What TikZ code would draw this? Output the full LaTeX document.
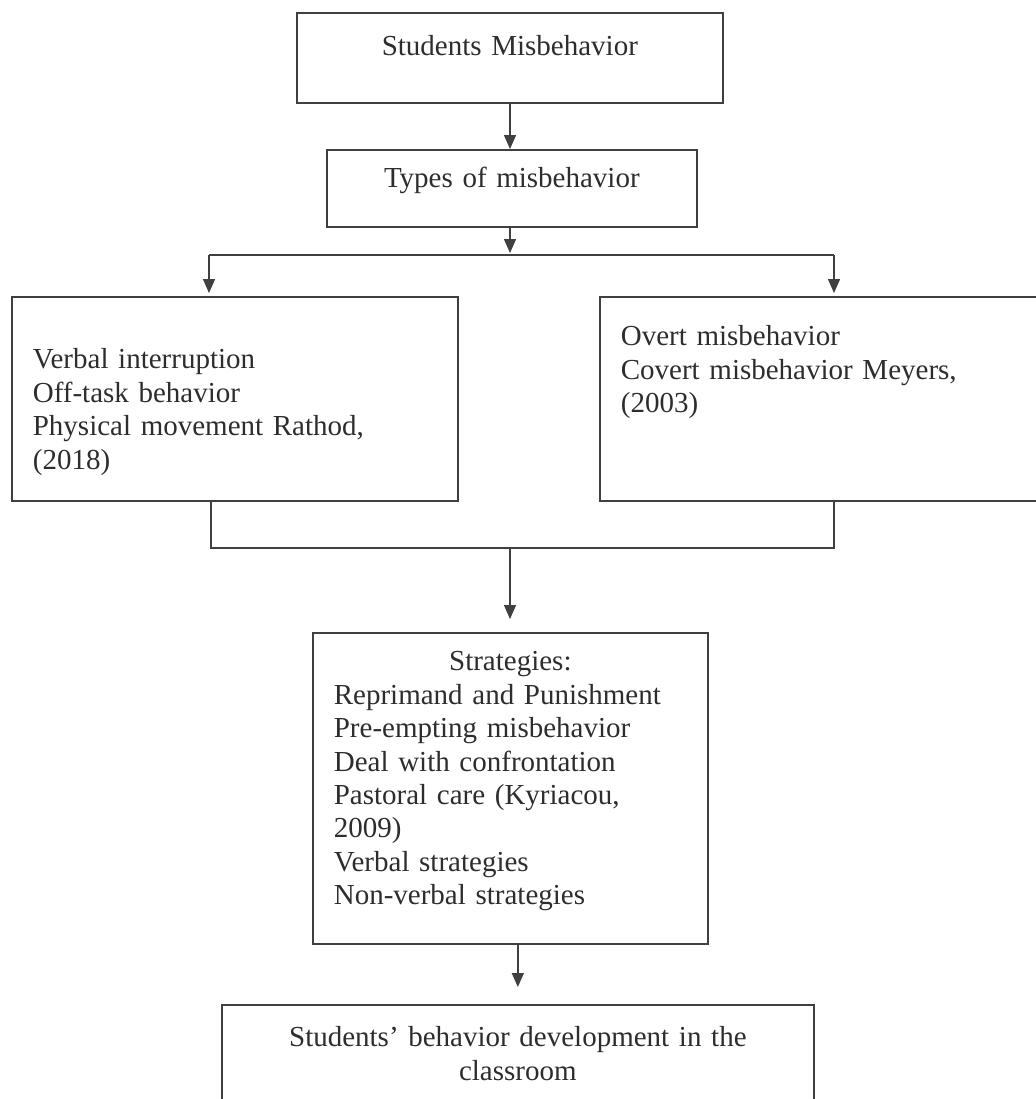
\documentclass[tikz,border=0pt]{standalone}
\usepackage{fontspec}
\setmainfont{Liberation Serif}
\usepackage{tikz}
\usetikzlibrary{arrows.meta,calc}
\usepackage{xcolor}
\definecolor{linegray}{RGB}{64,64,64}
\definecolor{textgray}{RGB}{45,45,45}

\begin{document}
\begin{tikzpicture}[x=0.5pt,y=-0.5pt,
  every node/.style={font=\fontsize{14.5}{16.7}\selectfont,text=textgray},
  box/.style={draw=linegray,line width=0.85pt,inner xsep=10.5pt,inner ysep=0pt,anchor=north west},
  arr/.style={-{Triangle[width=6pt,length=7pt]},draw=linegray,fill=linegray,line width=0.7pt},
  lnk/.style={draw=linegray,line width=0.7pt}]
\useasboundingbox (0,0) rectangle (1036,1099);
\clip (0,0) rectangle (1036,1099);
\node[box,align=center,text width=192pt,text height=21.5pt,text depth=23.5pt] (Sm) at (296,12)  {Students Misbehavior};
\node[box,align=center,text width=164pt,text height=19pt,text depth=19.5pt]   (Ty) at (326,149) {Types of misbehavior};
\node[box,align=left,text width=202pt,text height=36pt,text depth=66pt]       (Tl) at (11,296)  {Verbal interruption\\Off-task behavior\\Physical movement Rathod,\\(2018)};
\node[box,align=left,text width=202pt,text height=24.5pt,text depth=77.5pt]   (Tr) at (599,296) {Overt misbehavior\\Covert misbehavior Meyers,\\(2003)};
\node[box,align=left,text width=176.5pt,text height=19pt,text depth=136.5pt]  (St) at (312,632) {\makebox[\linewidth][c]{Strategies:}\\Reprimand and Punishment\\Pre-empting misbehavior\\Deal with confrontation\\Pastoral care (Kyriacou,\\2009)\\Verbal strategies\\Non-verbal strategies};
\node[box,align=center,text width=275pt,text height=21pt,text depth=40pt]     (Dv) at (221,1004) {Students’ behavior development in the\\classroom};
% split and merge points
\coordinate (jl) at (209,255);
\coordinate (jr) at (834,255);
\coordinate (bl) at (211,548);
\coordinate (br) at (834,548);
\coordinate (bm) at (510,548);
\draw[arr] (Sm.south -| 510,0) -- (Ty.north -| 510,0);
\draw[arr] (Ty.south -| 510,0) -- ($(jl -| 510,0)+(0,-2)$);
\draw[lnk] (jl) -- (jr);
\draw[arr,shorten >=1.5pt] (jl) -- (jl |- Tl.north);
\draw[arr,shorten >=1.5pt] (jr) -- (jr |- Tr.north);
\draw[lnk] (bl |- Tl.south) -- (bl) -- (br) -- (br |- Tr.south);
\draw[arr,shorten >=6.5pt] (bm) -- (bm |- St.north);
\draw[arr,shorten >=8.5pt] (Dv.north |- St.south) -- (Dv.north);
\end{tikzpicture}
\end{document}
